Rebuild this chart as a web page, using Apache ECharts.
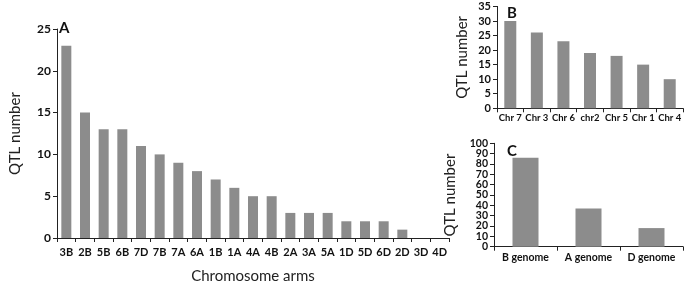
<!DOCTYPE html>
<html>
<head>
<meta charset="utf-8">
<script src="https://cdn.jsdelivr.net/npm/echarts@6/dist/echarts.min.js"></script>
<style>html,body{margin:0;padding:0;background:#fff}#c{width:685px;height:289px}</style>
</head>
<body>
<div id="c"></div>
<script>
const armCategories = ['3B','2B','5B','6B','7D','7B','7A','6A','1B','1A','4A','4B','2A','3A','5A','1D','5D','6D','2D','3D','4D'];
const armValues = [23,15,13,13,11,10,9,8,7,6,5,5,3,3,3,2,2,2,1,0,0];
const chrCategories = ['Chr 7','Chr 3','Chr 6','chr2','Chr 5','Chr 1','Chr 4'];
const chrValues = [30,26,23,19,18,15,10];
const genomeCategories = ['B genome','A genome','D genome'];
const genomeValues = [86,37,18];
const genomeTickLabels = ['0','10','20','30','40','50','60','70','80','90','100'];

const FONT = 'Lato';
const axisColor = '#222';
const barColor = '#8c8c8c';

function xAxis(idx, data, fs, margin) {
  return {
    type: 'category', gridIndex: idx, data: data,
    axisLine: {lineStyle: {color: axisColor, width: 1}},
    axisTick: {show: true, alignWithLabel: false, length: 4, lineStyle: {color: axisColor}},
    axisLabel: {color: '#111', fontFamily: FONT, fontWeight: 'bold', fontSize: fs, margin: margin, interval: 0, hideOverlap: false}
  };
}
function yAxis(idx, max, interval, fs, name, nameGap) {
  return {
    type: 'value', gridIndex: idx, min: 0, max: max, interval: interval,
    splitLine: {show: false},
    axisLine: {show: true, lineStyle: {color: axisColor, width: 1}},
    axisTick: {show: true, length: 4, lineStyle: {color: axisColor}},
    axisLabel: {color: '#111', fontFamily: FONT, fontWeight: 'bold', fontSize: fs, margin: 6},
    name: name, nameLocation: 'middle', nameGap: nameGap,
    nameTextStyle: {color: '#222', fontFamily: FONT, fontSize: 15}
  };
}

const yC = yAxis(2, 100, 10, 10.5, 'QTL number', 36);
yC.axisLabel.show = false;
yC.axisTick.show = false;

const chart = echarts.init(document.getElementById('c'));
chart.setOption({
  animation: false,
  backgroundColor: '#fff',
  title: [
    {text: 'A', left: 54, top: 16, textStyle: {fontFamily: FONT, fontWeight: 'bold', fontSize: 15, color: '#111'}},
    {text: 'B', left: 502, top: 1, textStyle: {fontFamily: FONT, fontWeight: 'bold', fontSize: 15, color: '#111'}},
    {text: 'C', left: 502, top: 139, textStyle: {fontFamily: FONT, fontWeight: 'bold', fontSize: 15, color: '#111'}}
  ],
  grid: [
    {left: 45, right: 236, top: 29, bottom: 41},
    {left: 497, right: 2, top: 6.4, bottom: 180.7},
    {left: 494, right: 2, top: 143.3, bottom: 42.3}
  ],
  xAxis: [
    Object.assign(xAxis(0, armCategories, 11, 9), {name: 'Chromosome arms', nameLocation: 'middle', nameGap: 31, nameTextStyle: {color: '#222', fontFamily: FONT, fontSize: 15}}),
    xAxis(1, chrCategories, 9.5, 5),
    xAxis(2, genomeCategories, 10.5, 5)
  ],
  yAxis: [
    yAxis(0, 25, 5, 12, 'QTL number', 34),
    yAxis(1, 35, 5, 11, 'QTL number', 27),
    yC,
    {
      type: 'category', gridIndex: 2, data: genomeTickLabels, boundaryGap: false, position: 'left',
      axisLine: {show: false},
      axisTick: {show: true, length: 4, interval: 0, lineStyle: {color: axisColor}},
      axisLabel: {color: '#111', fontFamily: FONT, fontWeight: 'bold', fontSize: 10.5, margin: 6, interval: 0, hideOverlap: false},
      splitLine: {show: false}
    }
  ],
  series: [
    {type: 'bar', xAxisIndex: 0, yAxisIndex: 0, data: armValues, barWidth: 10, itemStyle: {color: barColor}},
    {type: 'bar', xAxisIndex: 1, yAxisIndex: 1, data: chrValues, barWidth: 12, itemStyle: {color: barColor}},
    {type: 'bar', xAxisIndex: 2, yAxisIndex: 2, data: genomeValues, barWidth: 26, itemStyle: {color: barColor}}
  ]
});
</script>
</body>
</html>
